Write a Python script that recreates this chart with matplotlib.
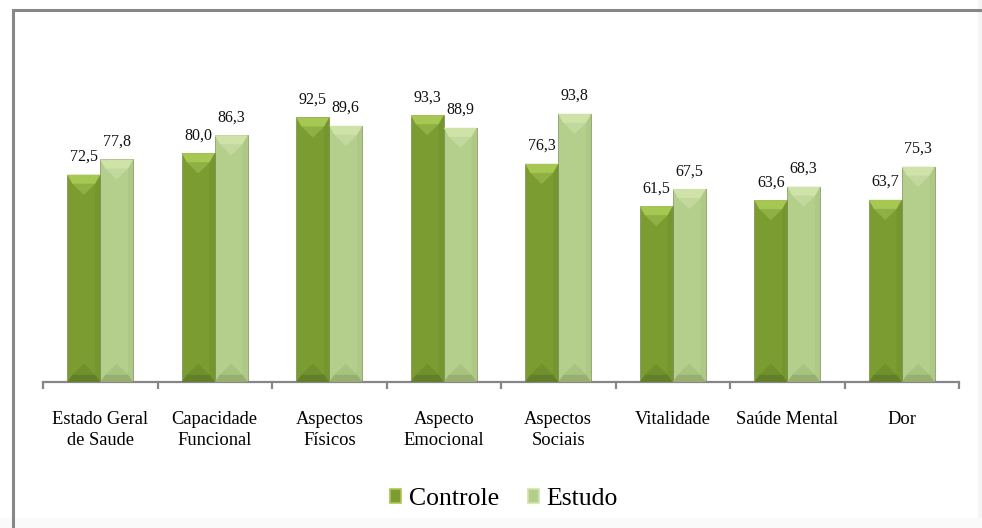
import matplotlib.pyplot as plt
import numpy as np
from matplotlib.patches import Rectangle, Patch

# dados
categorias = ["Estado Geral\nde Saude", "Capacidade\nFuncional", "Aspectos\nFísicos",
              "Aspecto\nEmocional", "Aspectos\nSociais", "Vitalidade", "Saúde Mental", "Dor"]
controle = [72.5, 80.0, 92.5, 93.3, 76.3, 61.5, 63.6, 63.7]
estudo = [77.8, 86.3, 89.6, 88.9, 93.8, 67.5, 68.3, 75.3]
series_nomes = ["Controle", "Estudo"]

plt.rcParams['font.family'] = ['Liberation Serif', 'DejaVu Serif']

fig = plt.figure(figsize=(9.82, 5.28), dpi=100)
ax = fig.add_axes([43/982, 1-382/528, (959-43)/982, (382-96)/528])

# cores: base, topo claro, V do topo, base escura
cores = {
    "Controle": ("#7a9c30", "#a6c852", "#b9d86c", "#62802a"),
    "Estudo": ("#b4ce8b", "#cfe3a8", "#dfedc4", "#97b072"),
}

largura = 0.288
x = np.arange(len(categorias)) + 0.5
dh = 3.2     # altura do bisel (unidades de dados)
dx = 0.045   # recuo do bisel

def barra_bisel(ax, xc, h, cor):
    base, claro, vcor, escuro = cor
    x0, x1 = xc - largura/2, xc + largura/2
    xm = xc
    ax.bar(xc, h, largura, color=base, edgecolor="#66783f", linewidth=0.4, zorder=2)
    # bisel superior
    ax.fill([x0, x1, x1-dx, x0+dx], [h, h, h-dh, h-dh], color=claro, lw=0, zorder=3)
    ax.fill([x0+dx, x1-dx, xm], [h-dh, h-dh, h-2.2*dh], color=vcor, lw=0, zorder=3, alpha=0.35)
    # bisel inferior
    ax.fill([x0, x1, x1-dx, x0+dx], [0, 0, dh*0.8, dh*0.8], color=escuro, lw=0, zorder=3)
    ax.fill([x0+dx, x1-dx, xm], [dh*0.8, dh*0.8, 2.0*dh], color=escuro, lw=0, zorder=3, alpha=0.4)
    # laterais
    ax.fill([x1, x1-dx, x1-dx, x1], [0, dh*0.8, h-dh, h], color=escuro, lw=0, zorder=3, alpha=0.2)

for i in range(len(categorias)):
    for j, (nome, vals) in enumerate(zip(series_nomes, [controle, estudo])):
        xc = x[i] + (j - 0.5) * largura
        barra_bisel(ax, xc, vals[i], cores[nome])
        ax.annotate(f"{vals[i]:.1f}".replace(".", ","), (xc, vals[i]),
                    xytext=(0, 7), textcoords="offset points",
                    ha="center", va="bottom", fontsize=11.5, color="#111111")

ax.set_xlim(0, len(categorias))
ax.set_ylim(0, 100)
ax.set_yticks([])
for s in ["left", "right", "top"]:
    ax.spines[s].set_visible(False)
ax.spines["bottom"].set_color("#868686")
ax.spines["bottom"].set_linewidth(1.6)

ax.set_xticks(x)
ax.set_xticklabels(categorias, fontsize=13.3, linespacing=1.32, va="top")
ax.set_xticks(np.arange(len(categorias) + 1), minor=True)
ax.tick_params(axis="x", which="major", length=0, pad=21)
ax.tick_params(axis="x", which="minor", length=5, width=1.6, color="#868686")
ax.patch.set_alpha(0)

# legenda
handles = [Patch(facecolor=cores[n][0], edgecolor=cores[n][1], linewidth=1.2) for n in series_nomes]
fig.legend(handles, series_nomes, loc="center", bbox_to_anchor=(504/982, 1-499/528),
           ncol=2, frameon=False, fontsize=18.5, handlelength=0.45, handleheight=0.45,
           handletextpad=0.3, columnspacing=1.1)

# moldura e sombra
fig.patches.append(Rectangle((978/982, 0), 0.01, 1, transform=fig.transFigure,
                             facecolor="#f5f5f5", edgecolor="none", zorder=0))
fig.patches.append(Rectangle((0, 0), 1, 10/528, transform=fig.transFigure,
                             facecolor="#fafafa", edgecolor="none", zorder=0))
fig.patches.append(Rectangle((13/982, -0.2), 1.2, 1.2 - 10/528, transform=fig.transFigure,
                             facecolor="none", edgecolor="#878787", linewidth=2.2, zorder=5))

fig.savefig("out.png", dpi=100)
